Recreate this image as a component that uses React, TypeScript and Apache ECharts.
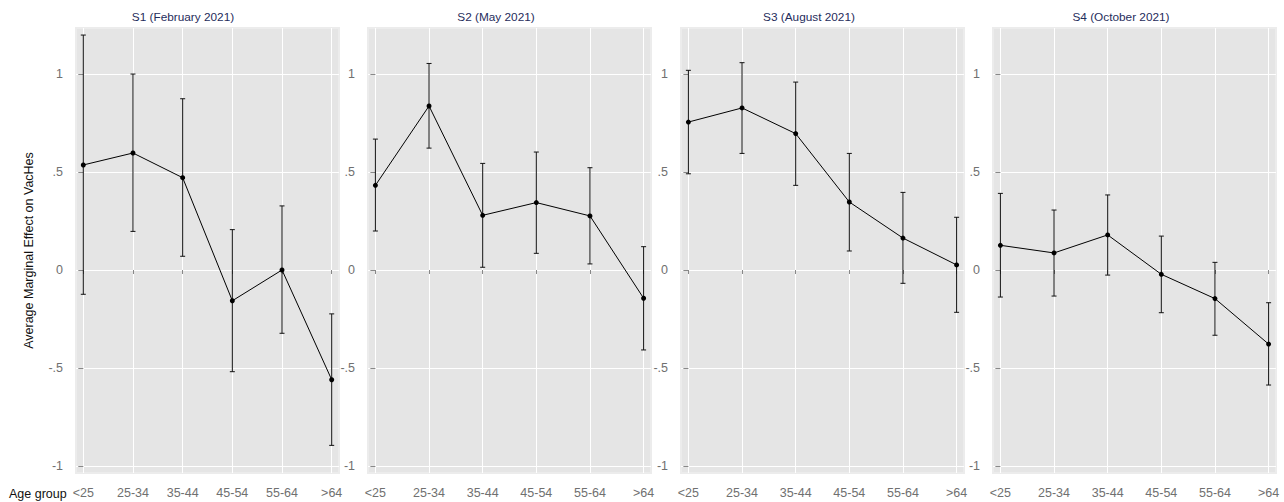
import React, { useEffect, useRef } from "react";
import * as echarts from "echarts";

const categories = ["<25", "25-34", "35-44", "45-54", "55-64", ">64"];
const panelTitles = ["S1 (February 2021)", "S2 (May 2021)", "S3 (August 2021)", "S4 (October 2021)"];

const s1Est = [0.536, 0.597, 0.471, -0.157, 0.0, -0.56];
const s1Lo = [-0.124, 0.197, 0.07, -0.519, -0.323, -0.895];
const s1Hi = [1.199, 1.0, 0.874, 0.206, 0.327, -0.224];

const s2Est = [0.432, 0.837, 0.279, 0.344, 0.276, -0.144];
const s2Lo = [0.199, 0.622, 0.014, 0.085, 0.031, -0.408];
const s2Hi = [0.668, 1.054, 0.544, 0.602, 0.522, 0.119];

const s3Est = [0.755, 0.827, 0.696, 0.347, 0.163, 0.026];
const s3Lo = [0.491, 0.595, 0.432, 0.097, -0.068, -0.216];
const s3Hi = [1.019, 1.058, 0.959, 0.595, 0.396, 0.269];

const s4Est = [0.126, 0.087, 0.179, -0.022, -0.146, -0.378];
const s4Lo = [-0.138, -0.133, -0.026, -0.218, -0.333, -0.587];
const s4Hi = [0.391, 0.306, 0.383, 0.173, 0.039, -0.167];

const yTicks = [-1, -0.5, 0, 0.5, 1];
const yTickLabels = ["-1", "-.5", "0", ".5", "1"];
const xTicks = [0, 1, 2, 3, 4, 5];

const FONT = "'Liberation Sans', Arial, Helvetica, sans-serif";

const panels = [
  { est: s1Est, lo: s1Lo, hi: s1Hi },
  { est: s2Est, lo: s2Lo, hi: s2Hi },
  { est: s3Est, lo: s3Lo, hi: s3Hi },
  { est: s4Est, lo: s4Lo, hi: s4Hi },
];

const gridLayout = [
  { left: 76, width: 263, pad: 0.147, titleX: 183 },
  { left: 368, width: 283, pad: 0.138, titleX: 496 },
  { left: 681, width: 283, pad: 0.138, titleX: 809 },
  { left: 993, width: 283, pad: 0.138, titleX: 1121 },
];

export default function App() {
  const ref = useRef<HTMLDivElement>(null);

  useEffect(() => {
    if (!ref.current) return;
    const chart = echarts.init(ref.current, null, { renderer: "svg" });

    const grid = gridLayout.map((g) => ({
      left: g.left,
      width: g.width,
      top: 28,
      height: 445,
      show: true,
      backgroundColor: "#e5e5e5",
      borderColor: "#ececec",
      borderWidth: 2,
      containLabel: false,
    }));

    const xAxis = gridLayout.map((g, i) => ({
      type: "value",
      gridIndex: i,
      min: -g.pad,
      max: 5 + g.pad,
      offset: 2,
      axisLine: { show: false },
      axisTick: {
        show: true,
        length: 4,
        customValues: xTicks,
        lineStyle: { color: "#888", width: 1 },
      },
      axisLabel: {
        show: true,
        customValues: xTicks,
        formatter: (v: number) => categories[Math.round(v)] ?? "",
        color: "#707070",
        fontSize: 12.5,
        fontFamily: FONT,
        margin: 11,
      },
      splitLine: { show: true, lineStyle: { color: "#ffffff", width: 1 } },
    }));

    const yAxis = gridLayout.map((g, i) => ({
      type: "value",
      gridIndex: i,
      min: -1.036,
      max: 1.235,
      offset: 2,
      name: i === 0 ? "Average Marginal Effect on VacHes" : "",
      nameLocation: "middle",
      nameGap: 39,
      nameTextStyle: { color: "#111", fontSize: 12.5, fontFamily: FONT },
      axisLine: { show: false },
      axisTick: {
        show: true,
        length: 5,
        customValues: yTicks,
        lineStyle: { color: "#888", width: 1 },
      },
      axisLabel: {
        show: true,
        customValues: yTicks,
        formatter: (v: number) => {
          const idx = yTicks.findIndex((t) => Math.abs(t - v) < 1e-9);
          return idx >= 0 ? yTickLabels[idx] : "";
        },
        color: "#707070",
        fontSize: 12.5,
        fontFamily: FONT,
        margin: 11,
      },
      splitLine: { show: true, lineStyle: { color: "#ffffff", width: 1 } },
    }));

    const series: any[] = [];
    panels.forEach((p, i) => {
      series.push({
        type: "custom",
        xAxisIndex: i,
        yAxisIndex: i,
        data: p.lo.map((lo, k) => [k, lo, p.hi[k]]),
        renderItem: (params: any, api: any) => {
          const x = api.value(0);
          const lo = api.coord([x, api.value(1)]);
          const hi = api.coord([x, api.value(2)]);
          const cap = 2.5;
          const st = { stroke: "#111", lineWidth: 1 };
          return {
            type: "group",
            children: [
              { type: "line", shape: { x1: lo[0], y1: lo[1], x2: hi[0], y2: hi[1] }, style: st },
              { type: "line", shape: { x1: hi[0] - cap, y1: hi[1], x2: hi[0] + cap, y2: hi[1] }, style: st },
              { type: "line", shape: { x1: lo[0] - cap, y1: lo[1], x2: lo[0] + cap, y2: lo[1] }, style: st },
            ],
          };
        },
        z: 2,
      });
      series.push({
        type: "line",
        xAxisIndex: i,
        yAxisIndex: i,
        data: p.est.map((v, k) => [k, v]),
        symbol: "circle",
        symbolSize: 5,
        itemStyle: { color: "#000" },
        lineStyle: { color: "#000", width: 1 },
        z: 3,
      });
    });

    const graphic: any[] = gridLayout.map((g, i) => ({
      type: "text",
      x: g.titleX,
      y: 17,
      style: {
        text: panelTitles[i],
        align: "center",
        verticalAlign: "middle",
        fill: "#1f2d5c",
        fontSize: 11.8,
        fontFamily: FONT,
      },
    }));
    graphic.push({
      type: "text",
      x: 9,
      y: 494,
      style: {
        text: "Age group",
        align: "left",
        verticalAlign: "middle",
        fill: "#111",
        fontSize: 12.5,
        fontFamily: FONT,
      },
    });

    chart.setOption({
      animation: false,
      backgroundColor: "#ffffff",
      grid,
      xAxis,
      yAxis,
      series,
      graphic,
    });

    return () => chart.dispose();
  }, []);

  return (
    <div
      ref={ref}
      style={{ position: "absolute", left: 0, top: 0, width: 1284, height: 502 }}
    />
  );
}
